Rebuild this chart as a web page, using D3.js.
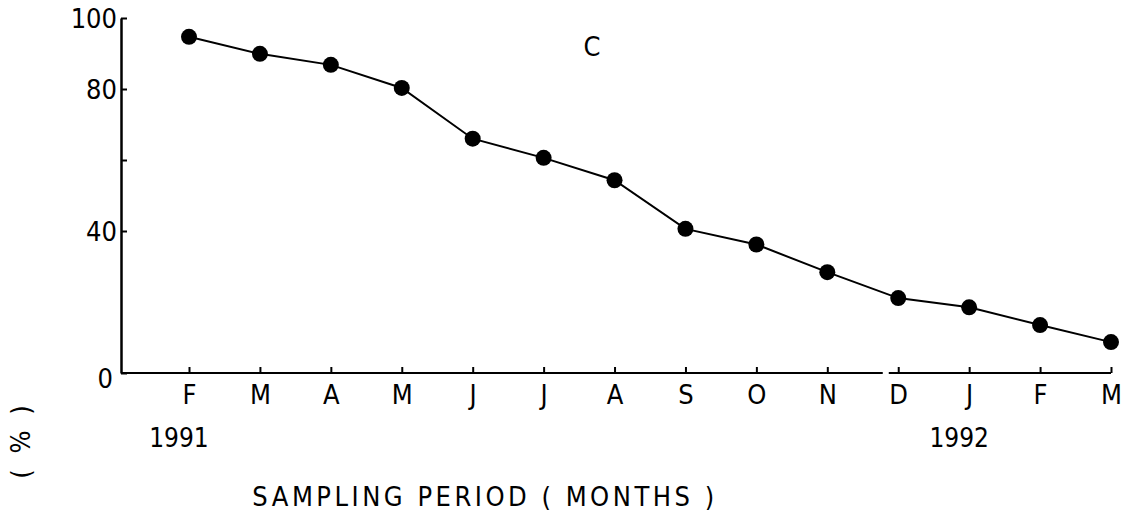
<html>
<head>
<style>
  body { margin: 0; background: white; }
  text { font-family: "DejaVu Sans Condensed", "DejaVu Sans", sans-serif; fill: black; }
</style>
<script src="https://cdn.jsdelivr.net/npm/d3@7"></script>
</head>
<body>
<div id="chart"></div>
<script>
  // months Feb 1991 .. Mar 1992
  var months = ['F', 'M', 'A', 'M', 'J', 'J', 'A', 'S', 'O', 'N', 'D', 'J', 'F', 'M'];
  var values = [94.7, 89.9, 86.8, 80.3, 66.0, 60.6, 54.3, 40.6, 36.2, 28.4, 21.1, 18.5, 13.5, 8.7];
  var yTicks = [0, 40, 60, 80, 100];
  var yLabels = { 0: '0', 40: '40', 80: '80', 100: '100' };
  var years = [{ at: 0, label: '1991' }, { at: 11, label: '1992' }];

  function draw() {
    var W = 1126, H = 527;
    var m = { left: 121, right: 1111, top: 18, bottom: 373 };
    var font = '"DejaVu Sans Condensed", "DejaVu Sans", sans-serif';

    var svg = d3.select('#chart').append('svg')
        .attr('width', W)
        .attr('height', H);

    var x = d3.scalePoint()
        .domain(d3.range(months.length))
        .range([189, m.right]);

    var y = d3.scaleLinear()
        .domain([0, 100])
        .range([m.bottom, m.top]);

    // y axis
    var yAxis = d3.axisLeft(y)
        .tickValues(yTicks)
        .tickSize(-6)
        .tickSizeOuter(0)
        .tickPadding(4)
        .tickFormat(function(d) { return yLabels[d] || ''; });

    var gy = svg.append('g')
        .attr('transform', 'translate(' + m.left + ',0)')
        .call(yAxis);
    gy.select('.domain').attr('stroke-width', 2.5);
    gy.selectAll('.tick line').attr('stroke-width', 2);
    gy.selectAll('.tick text')
        .attr('font-family', font)
        .style('font-size', '27px')
        .attr('dy', '0.35em');
    gy.selectAll('.tick').filter(function(d) { return d === 0; })
        .select('text').attr('dy', '0.55em').attr('x', -8);

    // x axis with small break between N and D
    var gap = (x(9) + x(10)) / 2 + 23;
    svg.append('line')
        .attr('x1', m.left).attr('x2', gap - 3)
        .attr('y1', m.bottom).attr('y2', m.bottom)
        .attr('stroke', 'black').attr('stroke-width', 2);
    svg.append('line')
        .attr('x1', gap + 3).attr('x2', x(13))
        .attr('y1', m.bottom).attr('y2', m.bottom)
        .attr('stroke', 'black').attr('stroke-width', 2);

    var xAxis = d3.axisBottom(x)
        .tickSize(-6)
        .tickSizeOuter(0)
        .tickPadding(12)
        .tickFormat(function(i) { return months[i]; });

    var gx = svg.append('g')
        .attr('transform', 'translate(0,' + m.bottom + ')')
        .call(xAxis);
    gx.select('.domain').remove();
    gx.selectAll('.tick line').attr('stroke-width', 2);
    gx.selectAll('.tick text')
        .attr('font-family', font)
        .style('font-size', '27px');

    svg.selectAll('.year')
        .data(years)
        .enter().append('text')
        .attr('class', 'year')
        .attr('x', function(d) { return x(d.at) - 10; })
        .attr('y', 447)
        .attr('text-anchor', 'middle')
        .style('font-size', '26px')
        .text(function(d) { return d.label; });

    // line + points
    var line = d3.line()
        .x(function(d, i) { return x(i); })
        .y(function(d) { return y(d); });

    svg.append('path')
        .datum(values)
        .attr('d', line)
        .attr('fill', 'none')
        .attr('stroke', 'black')
        .attr('stroke-width', 2);

    svg.selectAll('circle')
        .data(values)
        .enter().append('circle')
        .attr('cx', function(d, i) { return x(i); })
        .attr('cy', function(d) { return y(d); })
        .attr('r', 8)
        .attr('fill', 'black');

    svg.append('text')
        .attr('x', 592)
        .attr('y', 56)
        .attr('text-anchor', 'middle')
        .style('font-size', '27px')
        .text('C');

    svg.append('text')
        .attr('transform', 'translate(30,440) rotate(-90)')
        .attr('text-anchor', 'middle')
        .style('font-size', '27px')
        .style('letter-spacing', '4px')
        .text('( % )');

    svg.append('text')
        .attr('x', 485)
        .attr('y', 506)
        .attr('text-anchor', 'middle')
        .style('font-size', '27px')
        .style('letter-spacing', '3.5px')
        .text('SAMPLING  PERIOD  ( MONTHS )');
  }

  draw();
</script>
</body>
</html>
